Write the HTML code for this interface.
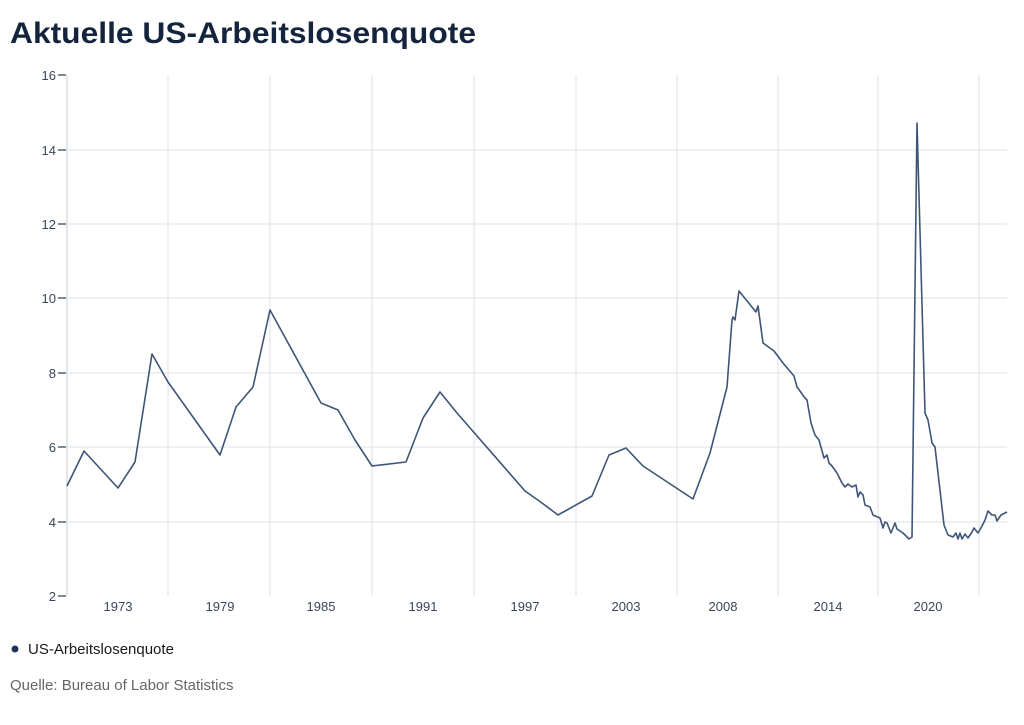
<!DOCTYPE html>
<html><head><meta charset="utf-8"><style>
body{margin:0;background:#fff;width:1024px;height:720px;overflow:hidden;font-family:"Liberation Sans",sans-serif}
</style></head><body>
<svg width="1024" height="720" xmlns="http://www.w3.org/2000/svg" font-family="Liberation Sans, sans-serif">
<text x="10" y="43" font-size="30" font-weight="bold" fill="#14243c" textLength="466" lengthAdjust="spacingAndGlyphs">Aktuelle US-Arbeitslosenquote</text>
<g stroke="#e3e6ec" stroke-width="1.3">
<line x1="67" y1="150" x2="1007" y2="150"/><line x1="67" y1="224" x2="1007" y2="224"/>
<line x1="67" y1="298" x2="1007" y2="298"/><line x1="67" y1="373" x2="1007" y2="373"/>
<line x1="67" y1="447" x2="1007" y2="447"/><line x1="67" y1="522" x2="1007" y2="522"/>
<line x1="168" y1="75" x2="168" y2="596"/><line x1="270" y1="75" x2="270" y2="596"/>
<line x1="372" y1="75" x2="372" y2="596"/><line x1="474" y1="75" x2="474" y2="596"/>
<line x1="576" y1="75" x2="576" y2="596"/><line x1="677" y1="75" x2="677" y2="596"/>
<line x1="778" y1="75" x2="778" y2="596"/><line x1="878" y1="75" x2="878" y2="596"/>
<line x1="979" y1="75" x2="979" y2="596"/>
</g>
<line x1="67" y1="75" x2="67" y2="596" stroke="#d3d8e0" stroke-width="1.3"/>
<g stroke="#3a4a60" stroke-width="1.3">
<line x1="58" y1="75" x2="66" y2="75"/><line x1="58" y1="150" x2="66" y2="150"/><line x1="58" y1="224" x2="66" y2="224"/>
<line x1="58" y1="298" x2="66" y2="298"/><line x1="58" y1="373" x2="66" y2="373"/><line x1="58" y1="447" x2="66" y2="447"/>
<line x1="58" y1="522" x2="66" y2="522"/><line x1="58" y1="596" x2="66" y2="596"/>
</g>
<g font-size="13" fill="#3a4658" text-anchor="end">
<text x="56" y="80">16</text><text x="56" y="155">14</text><text x="56" y="229">12</text><text x="56" y="303">10</text>
<text x="56" y="378">8</text><text x="56" y="452">6</text><text x="56" y="527">4</text><text x="56" y="601">2</text>
</g>
<g font-size="13" fill="#3a4658" text-anchor="middle">
<text x="118" y="611">1973</text><text x="220" y="611">1979</text><text x="321" y="611">1985</text><text x="423" y="611">1991</text>
<text x="525" y="611">1997</text><text x="626" y="611">2003</text><text x="723" y="611">2008</text><text x="828" y="611">2014</text><text x="928" y="611">2020</text>
</g>
<polyline fill="none" stroke="#3f5577" stroke-width="1.6" stroke-linejoin="round" points="67,486 84,451 118,488 135,462 152,354 168,382 220,455 236,407 253,387 270,310 321,403 338,410 355,440 372,466 406,462 423,418 440,392 457,413 525,491 542,503 558,515 592,496 609,455 626,448 643,466 693,499 710,453 727,387 732,320 733,317 735,320 739,291 756,312 758,306 763,343 774,351 783,363 794,376 797,387 805,398 807,400 811,423 815,435 819,440 824,458 827,455 829,463 832,466 837,473 842,483 845,487 848,484 852,487 856,485 858,497 860,492 863,495 865,505 870,507 873,515 880,518 883,528 885,522 887,523 891,533 895,523 897,529 903,533 909,539 912,537 917,123 925,413 928,420 931,437 932,443 935,447 944,525 948,535 953,537 956,533 958,539 960,533 962,539 965,534 968,538 972,532 974,528 978,533 982,526 985,520 988,511 992,515 995,515 997,521 1001,515 1007,512"/>
<circle cx="15" cy="649" r="3.5" fill="#1f3358"/>
<text x="28" y="654" font-size="15" fill="#1a1a1a">US-Arbeitslosenquote</text>
<text x="10" y="690" font-size="15" fill="#666">Quelle: Bureau of Labor Statistics</text>
</svg>
</body></html>
